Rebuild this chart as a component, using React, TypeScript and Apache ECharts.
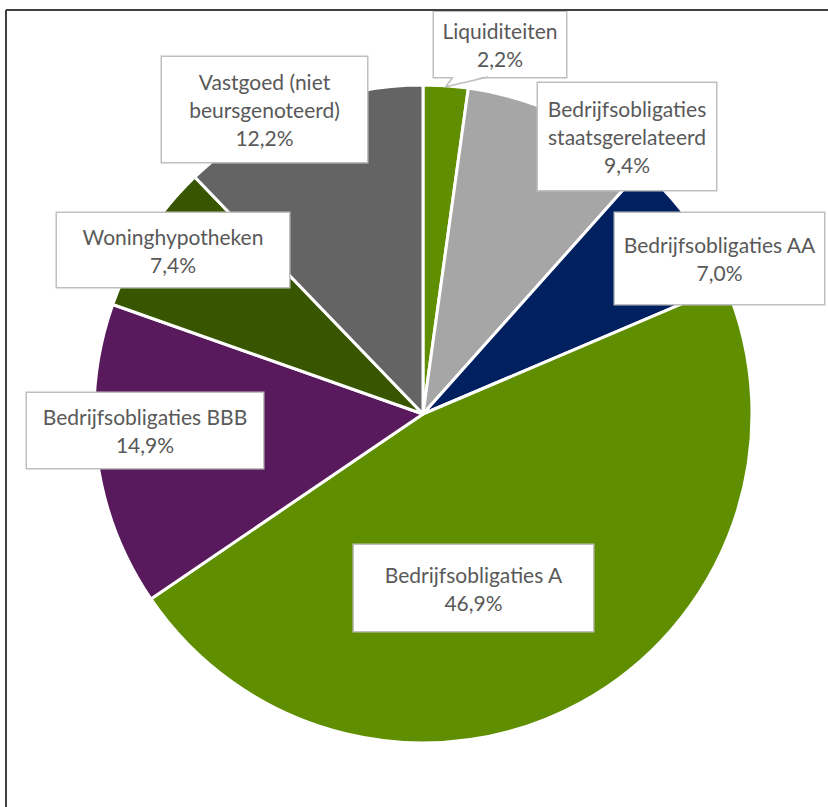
import React, { useEffect, useRef } from "react";
import * as echarts from "echarts";

// ---- data ----
const categories = [
  "Liquiditeiten",
  "Bedrijfsobligaties\nstaatsgerelateerd",
  "Bedrijfsobligaties AA",
  "Bedrijfsobligaties A",
  "Bedrijfsobligaties BBB",
  "Woninghypotheken",
  "Vastgoed (niet\nbeursgenoteerd)",
];
const values = [2.2, 9.4, 7.0, 46.9, 14.9, 7.4, 12.2];

// ---- styling / layout ----
const colors = ["#5f8f00", "#a6a6a6", "#002060", "#5f8f00", "#581a5c", "#385600", "#646464"];
const labelCenters: [number, number][] = [
  [500, 44.5],
  [627, 136.5],
  [719.5, 258.5],
  [473.5, 588],
  [145, 430.5],
  [173, 250],
  [264.5, 109.5],
];
const labelBoxW = [132, 178, 209, 239, 236, 232, 205];
const labelBoxH = [65, 107, 91, 86, 75, 74, 105];

const W = 828;
const H = 807;
const CX = 423;
const CY = 414;
const R = 329;
const LINE_H = 28;

const fmt = (v: number) => v.toFixed(1).replace(".", ",") + "%";

export default function App() {
  const ref = useRef<HTMLDivElement>(null);
  useEffect(() => {
    if (!ref.current) return;
    const chart = echarts.init(ref.current, undefined, { renderer: "svg" });

    const total = values.reduce((a, b) => a + b, 0);
    // callout tip for first slice, computed from its value
    const midFrac = values[0] / 2 / total;
    const ang = (Math.PI / 2) - midFrac * 2 * Math.PI;
    const tipX = CX + (R - 1) * Math.cos(ang);
    const tipY = CY - (R - 1) * Math.sin(ang);
    const lc = labelCenters[0];
    const boxBottom = lc[1] + labelBoxH[0] / 2;
    const boxLeft = lc[0] - labelBoxW[0] / 2;
    const baseL = boxLeft + 19;
    const baseR = boxLeft + 54;

    const data = categories.map((name, i) => {
      const lines = name.split("\n").length + 1;
      const pv = (labelBoxH[i] - lines * LINE_H) / 2;
      return {
        name,
        value: values[i],
        itemStyle: { color: colors[i] },
        label: {
          width: labelBoxW[i],
          padding: [pv, 0, pv, 0],
        },
      };
    });

    chart.setOption({
      animation: false,
      graphic: [
        {
          type: "line",
          shape: { x1: 6, y1: 10, x2: W, y2: 10 },
          style: { stroke: "#404040", lineWidth: 2 },
          z: 100,
        },
        {
          type: "line",
          shape: { x1: 6, y1: 10, x2: 6, y2: H },
          style: { stroke: "#404040", lineWidth: 2 },
          z: 100,
        },
        {
          type: "polygon",
          shape: {
            points: [
              [tipX, tipY],
              [baseL, boxBottom - 1.5],
              [baseR, boxBottom - 1.5],
            ],
          },
          style: { fill: "#ffffff", stroke: null },
          z: 100,
        },
        {
          type: "polyline",
          shape: {
            points: [
              [baseL, boxBottom],
              [tipX, tipY],
              [baseR, boxBottom],
            ],
          },
          style: { stroke: "#bfbfbf", lineWidth: 1.5, fill: null },
          z: 101,
        },
      ],
      series: [
        {
          type: "pie",
          center: [CX, CY],
          radius: [0, R],
          startAngle: 90,
          clockwise: true,
          data,
          itemStyle: { borderColor: "#ffffff", borderWidth: 3 },
          label: {
            show: true,
            position: "outside",
            formatter: (p: any) => `${p.name}\n${fmt(p.value)}`,
            fontFamily: "Lato",
            fontSize: 21,
            lineHeight: LINE_H,
            color: "#595959",
            align: "center",
            backgroundColor: "#ffffff",
            borderColor: "#bfbfbf",
            borderWidth: 1.5,
            borderRadius: 0,
          },
          labelLine: { show: false },
          labelLayout: (params: any) => {
            const c = labelCenters[params.dataIndex];
            return { x: c[0], y: c[1], align: "center", verticalAlign: "middle" };
          },
          emphasis: { disabled: true },
        },
      ],
    });
    return () => chart.dispose();
  }, []);
  return (
    <div
      ref={ref}
      style={{ position: "absolute", left: 0, top: 0, width: W, height: H, background: "#fff" }}
    />
  );
}
